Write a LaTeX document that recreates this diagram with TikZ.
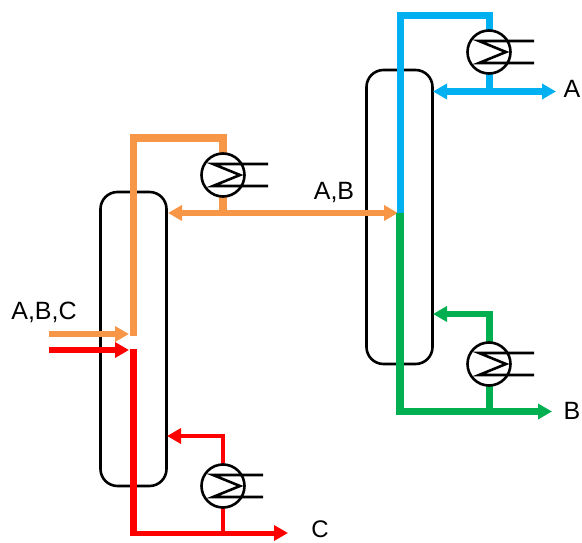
\documentclass[tikz,border=0pt]{standalone}
\usepackage{fontspec}
\setmainfont{Liberation Sans}
\usetikzlibrary{arrows.meta,calc}
\definecolor{porange}{RGB}{247,150,70}
\definecolor{pred}{RGB}{255,0,0}
\definecolor{pblue}{RGB}{0,176,240}
\definecolor{pgreen}{RGB}{0,176,80}
\tikzset{
  x=1pt,y=-1pt,
  column/.style={draw=black,line width=2.6pt,rounded corners=17pt,minimum width=66pt,minimum height=294pt,inner sep=0pt,outer sep=0pt},
  hxbody/.style={draw=black,fill=white,circle,line width=2.6pt,minimum size=43pt,inner sep=0pt,outer sep=0pt},
  hxline/.style={draw=black,line width=2.6pt},
  pipe/.style={line width=7.5pt,line join=miter},
  branch/.style={line width=5.5pt,line join=miter},
  tip/.style={-{Triangle[length=14pt,width=15pt]}},
  bothtip/.style={{Triangle[length=14pt,width=15pt]}-{Triangle[length=14pt,width=15pt]}},
  lbl/.style={font=\fontsize{25}{25}\selectfont,text=black,inner sep=0pt},
}
\newcommand{\hxcoil}[2]{%
  \draw[hxline,line join=miter] ($(#1)+(#2,-11)$) -- ($(#1)+(-10,-11)$) -- ($(#1)+(17,0)$) -- ($(#1)+(-10,11)$) -- ($(#1)+(#2,11)$);}
\begin{document}
\begin{tikzpicture}
\useasboundingbox (0,0) rectangle (582,543);
% columns
\node[column] (colL) at (133.5,339) {};
\node[column] (colR) at (399.5,217) {};
% points
\coordinate (hxLt) at (223,175);
\coordinate (hxLb) at (223,486);
\coordinate (hxRt) at (489,52);
\coordinate (hxRb) at (489,364);
\coordinate (feedA) at (49,334);
\coordinate (feedB) at (49,350);
\coordinate (feedAend) at (129,334);
\coordinate (feedBend) at (129,350);
\coordinate (oBase) at (133.5,336);
\coordinate (oTop) at (133.5,138);
\coordinate (oCorner) at (223,138);
\coordinate (oJoin) at (223,213);
\coordinate (oRefl) at (168,213);
\coordinate (oOut) at (398,213);
\coordinate (rTop) at (133.5,349);
\coordinate (rBot) at (133.5,533);
\coordinate (rJoin) at (223,533);
\coordinate (rOut) at (288,533);
\coordinate (rUp) at (223,436);
\coordinate (rRet) at (167,436);
\coordinate (bMid) at (400,213);
\coordinate (bTop) at (400,16);
\coordinate (bCorner) at (489,16);
\coordinate (bJoin) at (489,91.5);
\coordinate (bRefl) at (433,91.5);
\coordinate (bOut) at (556,91.5);
\coordinate (gBot) at (400,411.5);
\coordinate (gJoin) at (489,411.5);
\coordinate (gOut) at (552,411.5);
\coordinate (gUp) at (489,314);
\coordinate (gRet) at (433,314);
% orange
\draw[pipe,porange] (oBase) -- (oTop) -- (oCorner) -- (oJoin);
\draw[branch,porange,bothtip] (oRefl) -- (oOut);
\draw[branch,porange,tip] (feedA) -- (feedAend);
% red
\draw[branch,pred,tip] (feedB) -- (feedBend);
\draw[pipe,pred] (rTop) -- (rBot);
\draw[branch,pred,tip,line width=5pt] ($(rBot)+(-3.75,0)$) -- (rOut);
\draw[branch,pred,line width=4.5pt] (rJoin) -- (rUp);
\draw[branch,pred,line width=4.5pt,tip] ($(rUp)+(2.25,0)$) -- (rRet);
% blue / green
\draw[pipe,pblue,line width=7pt] (bMid) -- (bTop) -- (bCorner) -- (bJoin);
\draw[branch,pblue,line width=7pt,bothtip] (bRefl) -- (bOut);
\draw[pipe,pgreen] (bMid) -- (gBot);
\draw[pipe,pgreen,line width=7pt] (gJoin) -- (gUp);
\draw[branch,pgreen,line width=6.5pt,tip] ($(gBot)+(-3.75,0)$) -- (gOut);
\draw[branch,pgreen,line width=6.5pt,tip] ($(gUp)+(3.5,0)$) -- (gRet);
% exchangers
\node[hxbody] (hx1) at (hxLt) {};
\node[hxbody] (hx2) at (hxLb) {};
\node[hxbody] (hx3) at (hxRt) {};
\node[hxbody] (hx4) at (hxRb) {};
\hxcoil{hx1}{45}
\hxcoil{hx2}{40}
\hxcoil{hx3}{45}
\hxcoil{hx4}{45}
% labels
\node[lbl] (tABC) at (44,312) {A,B,C};
\node[lbl] (tAB) at (334,192) {A,B};
\node[lbl,font=\fontsize{24}{24}\selectfont] (tC) at (320,529) {C};
\node[lbl] (tA) at (572,89) {A};
\node[lbl] (tB) at (572,411) {B};
\end{tikzpicture}
\end{document}
